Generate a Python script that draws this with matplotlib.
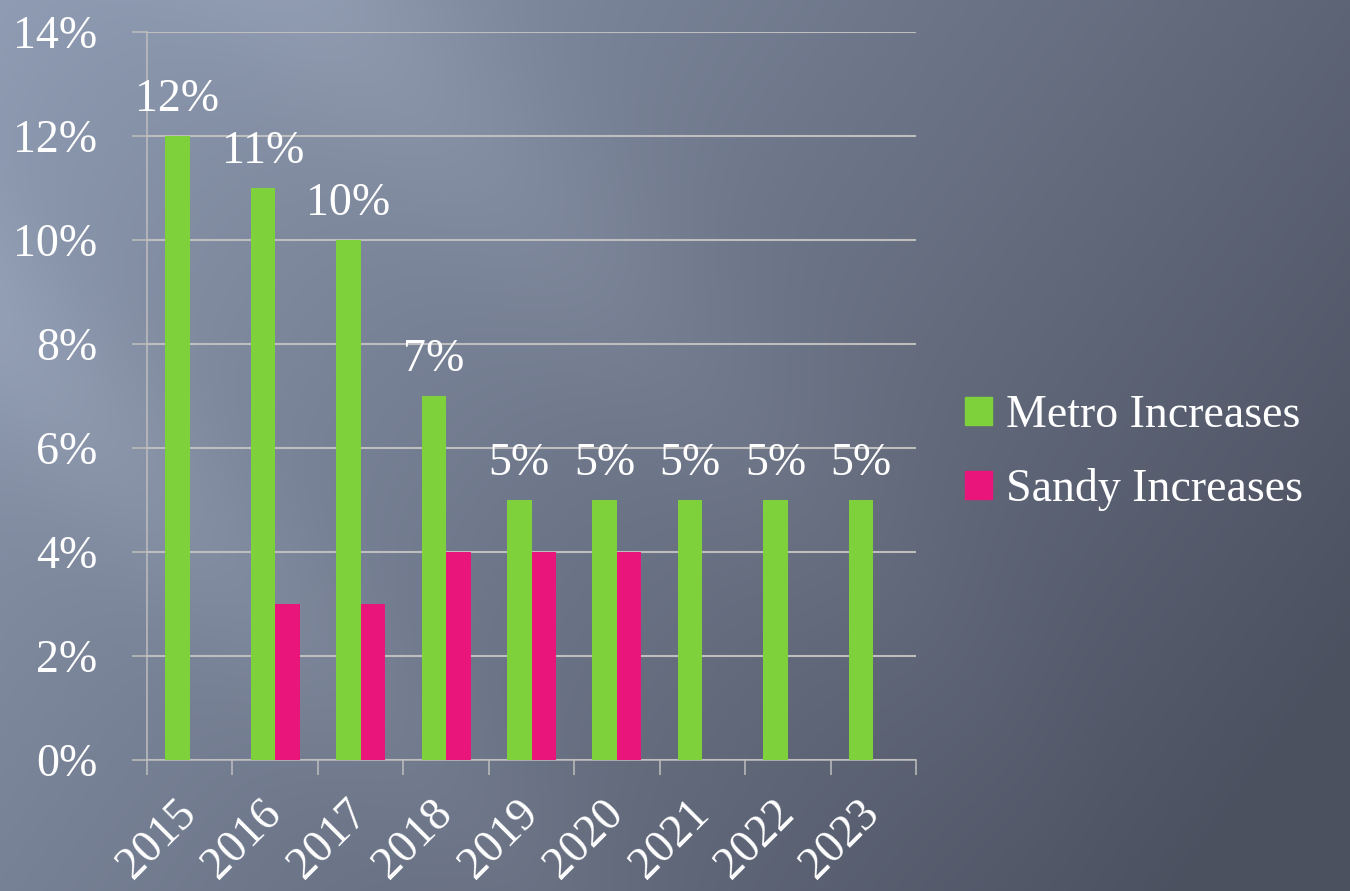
import numpy as np
import matplotlib
matplotlib.use("Agg")
import matplotlib.pyplot as plt
from matplotlib.patches import Patch

# chart data
years = ["2015", "2016", "2017", "2018", "2019", "2020", "2021", "2022", "2023"]
metro = [12, 11, 10, 7, 5, 5, 5, 5, 5]
sandy = [np.nan, 3, 3, 4, 4, 4, np.nan, np.nan, np.nan]
series_names = ["Metro Increases", "Sandy Increases"]

GREEN = "#7FD13B"
PINK = "#EA157A"
LINE = "#BEBEBE"
FONT = "Liberation Serif"
FS = 33

W, H = 1350, 891
fig = plt.figure(figsize=(W / 100, H / 100), dpi=100)

# background gradient with light diagonal streaks
bg = fig.add_axes([0, 0, 1, 1], zorder=-10)
yy, xx = np.mgrid[0:H, 0:W]
t = np.clip(0.75 * xx / W + 0.35 * yy / H, 0, 1)
light = np.array([0.56, 0.61, 0.70])
dark = np.array([0.30, 0.32, 0.38])
img = light[None, None, :] * (1 - t[..., None]) + dark[None, None, :] * t[..., None]
d1 = ((xx - 330) - yy) / np.sqrt(2)
img += 0.07 * np.exp(-(d1 / 110) ** 2)[..., None] * np.clip(1 - xx / 1100, 0, 1)[..., None]
d2 = (xx - (yy - 330)) / np.sqrt(2)
img += 0.05 * np.exp(-(d2 / 90) ** 2)[..., None] * np.clip(1 - xx / 900, 0, 1)[..., None]
bg.imshow(np.clip(img, 0, 1), aspect="auto", extent=[0, 1, 0, 1], interpolation="bilinear")
bg.axis("off")

ax = fig.add_axes([147 / W, 1 - 760 / H, (916 - 147) / W, (760 - 32) / H])
ax.patch.set_alpha(0)

x = np.arange(len(years))
w = 0.287
ax.bar(x - w / 2, metro, w, color=GREEN, zorder=3, label=series_names[0])
ax.bar(x + w / 2, sandy, w, color=PINK, zorder=3, label=series_names[1])

for xi, v in zip(x, metro):
    ax.annotate(f"{v}%", (xi - w / 2, v), xytext=(0, 18), textcoords="offset points",
                ha="center", va="baseline", color="white", fontsize=FS, family=FONT)

ax.set_xlim(-0.5, len(years) - 0.5)
ax.set_ylim(0, 14)
ax.set_yticks(np.arange(0, 15, 2))
ax.set_yticklabels([f"{v}%" for v in range(0, 15, 2)], family=FONT, fontsize=FS, color="white")
ax.yaxis.grid(True, color=LINE, linewidth=1.5, zorder=0)
ax.set_axisbelow(True)

# boundary ticks on x, labels at category centres
ax.set_xticks(np.arange(-0.5, len(years), 1.0))
ax.set_xticklabels([])
ax.set_xticks(x, minor=True)
ax.set_xticklabels(years, minor=True, rotation=45, ha="right", va="center",
                   rotation_mode="anchor", family=FONT, fontsize=FS, color="white")
ax.tick_params(axis="x", which="major", direction="out", length=10.5, width=1.1, color=LINE)
ax.tick_params(axis="x", which="minor", length=0, pad=34)
ax.tick_params(axis="y", direction="out", length=10.8, width=1.1, color=LINE, pad=25)

for s in ["top", "right"]:
    ax.spines[s].set_visible(False)
for s in ["left", "bottom"]:
    ax.spines[s].set_color(LINE)
    ax.spines[s].set_linewidth(1.1)

handles = [Patch(color=GREEN), Patch(color=PINK)]
leg = fig.legend(handles, series_names, loc="center left", bbox_to_anchor=(924 / W, 1 - 453 / H),
                 frameon=False, prop={"family": FONT, "size": FS},
                 handlelength=0.58, handleheight=0.58, handletextpad=0.3, labelspacing=0.68)
for txt in leg.get_texts():
    txt.set_color("white")

fig.savefig("out.png", dpi=100)
